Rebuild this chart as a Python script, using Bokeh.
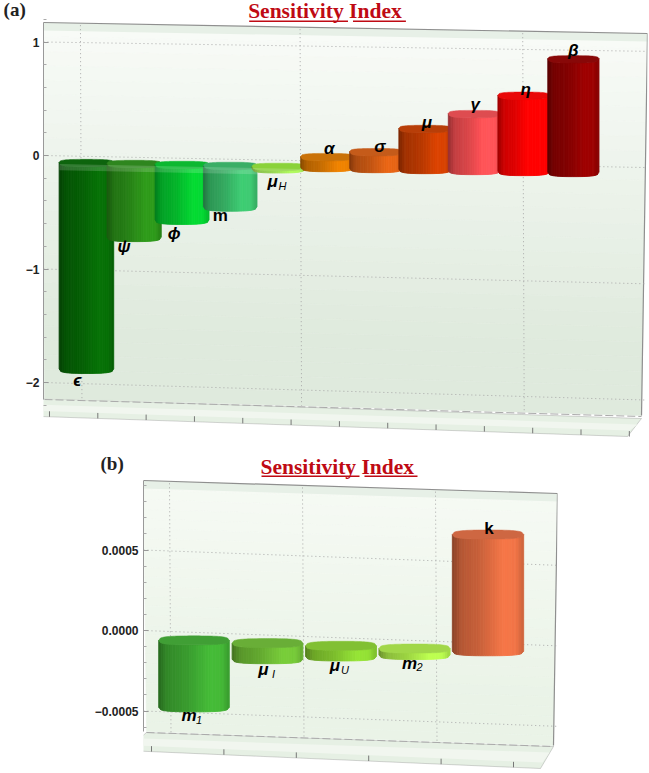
import numpy as np
from bokeh.plotting import figure
from bokeh.layouts import column
from bokeh.embed import file_html
from bokeh.resources import INLINE
from bokeh.core.properties import value, field
from bokeh.models import (Range1d, FixedTicker, Label, BoxAnnotation, PolyAnnotation,
                          ColumnDataSource)

# ---------- data ----------
labels_a = ["ϵ", "ψ", "ϕ", "m", "μ", "α", "σ", "μ", "γ", "η", "β"]
subs_a = ["", "", "", "", "H", "", "", "", "", "", ""]
values_a = [-1.82, -0.65, -0.49, -0.365, -0.02, 0.095, 0.147, 0.36, 0.50, 0.67, 1.0]
colors_a = ["#066606", "#2a8c18", "#04c42e", "#38b868", "#90e038", "#d87600", "#d25c14",
            "#c43c00", "#ee4c50", "#fa0000", "#8e0000"]
ticks_a = [1, 0, -1, -2]
ticklabels_a = ["1", "0", "−1", "−2"]
minor_a = [1.2, 0.8, 0.6, 0.4, 0.2, -0.2, -0.4, -0.6, -0.8, -1.2, -1.4, -1.6, -1.8, -2.2]

labels_b = ["m", "μ", "μ", "m", "k"]
subs_b = ["1", "I", "U", "2", ""]
values_b = [-0.000416, -0.00010, -0.000066, -0.00004, 0.000725]
colors_b = ["#3ea832", "#6cb834", "#86cc30", "#aae648", "#dc6a40"]
ticks_b = [0.0005, 0.0, -0.0005]
ticklabels_b = ["0.0005", "0.0000", "−0.0005"]
minor_b = [0.0009, 0.0008, 0.0007, 0.0006, 0.0004, 0.0003, 0.0002, 0.0001,
           -0.0001, -0.0002, -0.0003, -0.0004, -0.0006]
TITLE = "Sensitivity Index"

# ---------- style / geometry ----------
cfg_a = dict(
    data=(labels_a, subs_a, values_a, colors_a, ticks_a, ticklabels_a, minor_a),
    w=649, h=450, left=42, right=647, bottom=440, px0=85.0, slot=48.8, zero=155.0, scale=113.5,
    skew=0.02, persp=0.00004, quad=(0.977, 0.00225), hw=(0.56, 0.525),
    depth=7.5, corner=4.5, front=10.5, p=3.0,
    wall=[(41, 22), (647, 33), (641, 415), (43, 398)],
    floor=[(10, 415), (627, 436), (641, 418), (43, 398)],
    gridx=[79, 299, 522], axis=(1.17, -2.15),
    top_col="#f8fbf7", bot_col="#dfeadd",
    floor_ticks=[48 + 48.4 * k for k in range(13)],
    dx=[-9, -10, -8, -10, -6, 2, 4, 2, 1, 2, 0],
    dy=[7, 5, 9, 4, 9, -12, -9, -10, -13, -10, -13],
    upright=[3],
    title_x=247, title_y=10, ul=[(248, 347), (352, 405)], ul_y=20, tag="(a)", tag_xy=(2, 9), band=(58, 302),
    standoff=4,
)
cfg_b = dict(
    data=(labels_b, subs_b, values_b, colors_b, ticks_b, ticklabels_b, minor_b),
    w=649, h=323, left=143, right=557, bottom=321, px0=193.5, slot=73.5, zero=180.0, scale=161000.0,
    skew=0.037, persp=0.0, quad=(1.0, 0.0), hw=(0.48, 0.485),
    depth=9.0, corner=4.5, front=12.5, p=3.0,
    wall=[(143, 30), (557, 43), (553, 295), (146, 281)],
    floor=[(125, 300), (540, 318), (553, 296), (146, 282)],
    gridx=[169, 302, 435], axis=(0.00093, -0.000627),
    top_col="#f6faf4", bot_col="#eaf3e7",
    floor_ticks=[151 + 72.4 * k for k in range(6)],
    dx=[-5, -4, -6, -5, 1], dy=[4, 6, 5, 4, -11],
    upright=[4],
    title_x=260, title_y=16, ul=[(261, 359), (364, 417)], ul_y=25, tag="(b)", tag_xy=(100, 13), band=None,
    standoff=5,
)


def hex2rgb(c):
    return np.array([int(c[i:i + 2], 16) for i in (1, 3, 5)], float)


def mix(a, b, t):
    return a + (b - a) * t


def tohex(c):
    c = np.clip(np.round(c), 0, 255).astype(int)
    return "#%02x%02x%02x" % tuple(c)


def shade(c, t):
    # t in -1..1, dark on the left, brightest right of centre
    s = np.interp(t, [-1, -0.75, -0.2, 0.45, 0.8, 1], [0.62, 0.82, 0.92, 1.12, 1.1, 0.92])
    return tohex(c * s)


def build(cfg):
    labels, subs, vals, cols, ticks, ticklabels, minor = cfg["data"]
    L, R, B = cfg["left"], cfg["right"], cfg["bottom"]
    px0, slot, zero, scale = cfg["px0"], cfg["slot"], cfg["zero"], cfg["scale"]

    def dx(px):
        return (np.asarray(px, float) - px0) / slot

    def dy(py):
        return (zero - np.asarray(py, float)) / scale

    p = figure(width=cfg["w"], height=cfg["h"], output_backend="svg", toolbar_location=None,
               x_range=Range1d(float(dx(L)), float(dx(R))), y_range=Range1d(float(dy(B)), float(dy(0))),
               min_border_left=L, min_border_right=cfg["w"] - R, min_border_top=0,
               min_border_bottom=cfg["h"] - B, x_axis_type=None, background_fill_color="white",
               border_fill_color="white", outline_line_color=None, frame_align=False)
    p.grid.visible = False

    p.add_layout(Label(x=float(dx(cfg["title_x"])), y=float(dy(cfg["title_y"])),
                       text=TITLE, text_color="#bf0a14", text_font="Liberation Serif", text_font_style="bold",
                       text_font_size="21.5px", text_baseline="alphabetic"))
    for a, b in cfg["ul"]:
        p.add_layout(BoxAnnotation(left=float(dx(a)), right=float(dx(b)), top=float(dy(cfg["ul_y"])),
                                   bottom=float(dy(cfg["ul_y"] + 1.4)), fill_color="#bf0a14", fill_alpha=1,
                                   line_color=None))
    p.add_layout(Label(x=float(dx(cfg["tag_xy"][0])), y=float(dy(cfg["tag_xy"][1])),
                       text=cfg["tag"], text_font="Liberation Serif", text_font_style="bold",
                       text_font_size="19px", text_color="#222222", text_baseline="alphabetic"), "left")

    yax = p.yaxis[0]
    yax.ticker = FixedTicker(ticks=ticks, minor_ticks=minor)
    yax.major_label_overrides = dict(zip(ticks, ticklabels))
    yax.major_label_text_font = "Liberation Sans"
    yax.major_label_text_font_style = "bold"
    yax.major_label_text_font_size = "12px"
    yax.major_label_text_color = "#222222"
    yax.major_label_standoff = cfg["standoff"]
    yax.major_tick_in, yax.major_tick_out = 5, 0
    yax.minor_tick_in, yax.minor_tick_out = 3, 0
    yax.axis_line_color = "#999999"
    yax.major_tick_line_color = "#999999"
    yax.minor_tick_line_color = "#aaaaaa"
    yax.bounds = cfg["axis"]

    # floor
    fl = cfg["floor"]
    fx, fy = [f[0] for f in fl], [f[1] for f in fl]
    p.add_layout(PolyAnnotation(xs=list(map(float, dx(fx))), ys=list(map(float, dy(fy))), fill_color="#e6f0e4",
                                fill_alpha=1, line_color="#777777", line_width=1, level="underlay"))

    # wall as soft vertical gradient
    (x0, y0), (x1, y1), (x2, y2), (x3, y3) = cfg["wall"]
    n = 26
    top, bot = hex2rgb(cfg["top_col"]), hex2rgb(cfg["bot_col"])
    xs, ys, cs = [], [], []
    for j in range(n):
        a, b = j / n, (j + 1) / n
        qx = [mix(x0, x3, a), mix(x1, x2, a), mix(x1, x2, b), mix(x0, x3, b)]
        qy = [mix(y0, y3, a), mix(y1, y2, a), mix(y1, y2, b), mix(y0, y3, b)]
        xs.append(list(dx(qx)))
        ys.append(list(dy(qy)))
        cs.append(tohex(mix(top, bot, min(1.0, a * 1.25))))
    p.patches("x", "y", source=ColumnDataSource(dict(x=xs, y=ys, c=cs)), fill_color="c", line_color="c",
              line_width=0.6)
    # upper lip and outline of the wall
    p.patch(list(dx([x0, x1, x1, x0])), list(dy([y0, y1, y1 + 8, y0 + 8])), fill_color="#e7f0e7",
            line_color=None)
    p.line(list(dx([x0, x1, x2])), list(dy([y0, y1, y2])), line_color="#8f8f8f", line_width=1.2)
    p.line(list(dx([x3, x2])), list(dy([y3 + 1, y2 + 1])), line_color="#aaaaaa", line_width=1, line_dash="8 3")
    # inner lighter strip of the floor
    p.patch(list(dx([fx[3] - 6, fx[2] - 4, fx[1] + 2, fx[0] + 14])),
            list(dy([fy[3] + 6, fy[2] + 6, fy[1] - 6, fy[0] - 5])), fill_color="#f1f6ef", line_color=None)

    def skew_y(x_data, v):
        offs = (x_data * slot + px0 - L)
        return v * (1 + cfg["persp"] * offs) - cfg["skew"] * offs / scale

    # dotted grid on the wall
    gxs, gys = [], []
    for v in ticks:
        xx = np.array([dx(L), dx(x1 - 1)])
        gxs.append(list(xx))
        gys.append(list(skew_y(xx, v)))
    for g in cfg["gridx"]:
        gxs.append([float(dx(g)), float(dx(g + 1.5))])
        u = (g - x0) / (x1 - x0)
        gys.append(list(dy([mix(y0, y1, u) + 2, mix(y3, y2, u)])))
    p.multi_line(gxs, gys, line_color="#a8a8a8", line_width=1, line_dash="1 3")

    # floor ticks
    tx = np.array(cfg["floor_ticks"], float)
    u = (tx - fx[0]) / (fx[1] - fx[0])
    ty = fy[0] + u * (fy[1] - fy[0])
    p.segment(list(dx(tx)), list(dy(ty)), list(dx(tx)), list(dy(ty - 5.5)), line_color="#777777", line_width=1)

    # bars: shaded strips with a cap, all from the values
    m = 30
    depth, corner, front, pw = cfg["depth"] / scale, cfg["corner"] / scale, cfg["front"] / scale, cfg["p"]
    c1, c2 = cfg["quad"]
    hw0, hw1 = cfg["hw"]
    sx, sy, sc, tx_, ty_, tc = [], [], [], [], [], []
    centers, tops = [], []

    def g(t):
        return (1 - np.abs(t) ** pw) ** (1 / pw)

    for i, (val, col) in enumerate(zip(vals, cols)):
        cx = c1 * i + c2 * i * i
        hw = mix(hw0, hw1, i / max(1, len(vals) - 1))
        base = hex2rgb(col)
        off0 = skew_y(cx, 0) - front
        v_hi = off0 + max(val, 0)
        v_lo = off0 + min(val, 0)
        ts = np.linspace(-1, 1, m + 1)
        for a, b in zip(ts[:-1], ts[1:]):
            xa, xb = cx + a * hw, cx + b * hw
            ca, cb = corner * (1 - g(a)), corner * (1 - g(b))
            sx.append([xa, xb, xb, xa])
            sy.append([v_hi + ca, v_hi + cb, v_lo + cb, v_lo + ca])
            sc.append(shade(base, (a + b) / 2))
        tt = np.linspace(-1, 1, 41)
        frontc = v_hi + corner * (1 - g(tt))
        backc = v_hi + corner + (depth - corner) * g(tt[::-1])
        tx_.append(list(cx + tt * hw) + list(cx + tt[::-1] * hw))
        ty_.append(list(frontc) + list(backc))
        tc.append(tohex(base * 0.9 + np.array([8, 8, 8])))
        centers.append(cx)
        tops.append(v_lo if val < 0 else v_hi)

    # draw bar by bar so that each one covers its left neighbour
    for i in range(len(vals)):
        a = i * m
        src = ColumnDataSource(dict(x=sx[a:a + m], y=sy[a:a + m], c=sc[a:a + m]))
        p.patches("x", "y", source=src, fill_color="c", line_color="c", line_width=0.9)
        p.patch(tx_[i], ty_[i], fill_color=tc[i], line_color=tc[i], line_width=0.5)

    if cfg["band"]:
        bx = np.array(dx(cfg["band"]))
        by = skew_y(bx, 0) - front
        p.patch([bx[0], bx[1], bx[1], bx[0]], [by[0] + 0.5 * corner, by[1] + 0.5 * corner, by[1] - corner * 0.9, by[0] - corner * 0.9],
                fill_color="white", fill_alpha=0.16, line_color=None)

    fs = ["bold" if i in cfg["upright"] else "bold italic" for i in range(len(vals))]
    ls = ColumnDataSource(dict(x=centers, y=tops, t=labels, s=subs, ox=cfg["dx"], oy=cfg["dy"], fs=fs,
                               sx=[o + 10 for o in cfg["dx"]], sy=[o + 4 for o in cfg["dy"]]))
    p.text("x", "y", text="t", source=ls, x_offset="ox", y_offset="oy", text_font=value("Liberation Sans"),
           text_font_style=field("fs"), text_font_size="17px", text_color="black",
           text_align="center", text_baseline="middle")
    p.text("x", "y", text="s", source=ls, x_offset="sx", y_offset="sy", text_font=value("Liberation Sans"),
           text_font_style="italic", text_font_size="11px", text_color="black",
           text_align="center", text_baseline="middle")
    return p


layout = column(build(cfg_a), build(cfg_b), spacing=0)
open("out.html", "w").write(file_html(layout, INLINE))
